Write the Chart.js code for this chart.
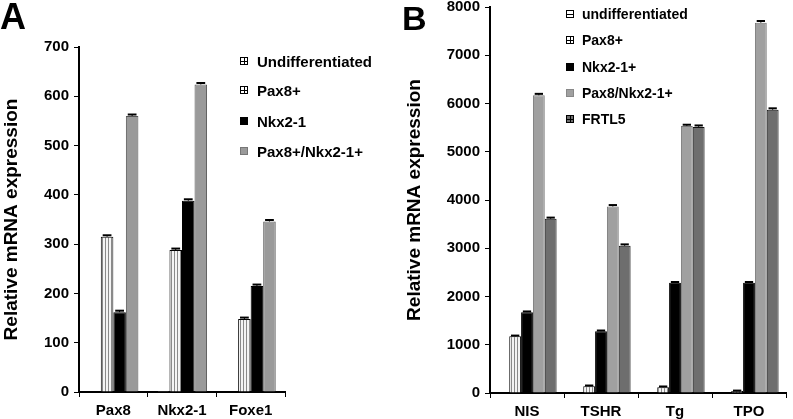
<!DOCTYPE html>
<html>
<head>
<meta charset="utf-8">
<script src="https://cdn.jsdelivr.net/npm/chart.js@4.4.1/dist/chart.umd.min.js"></script>
<style>
  html,body{margin:0;padding:0;background:#fff;}
  body{width:793px;height:419px;position:relative;overflow:hidden;font-family:"Liberation Sans",Arial,sans-serif;font-weight:bold;color:#000;}
  #wrapA{position:absolute;left:0;top:0;width:400px;height:419px;}
  #wrapB{position:absolute;left:400px;top:0;width:393px;height:419px;}
  .panel{position:absolute;font-size:36px;font-weight:bold;line-height:1;}
  .legend{position:absolute;}
  .legend .it{position:absolute;white-space:nowrap;display:flex;align-items:center;}
  .legend .sw{display:inline-block;box-sizing:border-box;border:1px solid #000;}
</style>
</head>
<body>
<div id="wrapA"><canvas id="chartA" width="400" height="419"></canvas></div>
<div id="wrapB"><canvas id="chartB" width="393" height="419"></canvas></div>
<div class="panel" style="left:0px;top:-1px;">A</div>
<div class="panel" style="left:402px;top:1px;font-size:34px;">B</div>
<div class="legend" id="legA"></div>
<div class="legend" id="legB"></div>
<script>
// ---------- Data ----------
const catsA = ["Pax8", "Nkx2-1", "Foxe1"];
const seriesNamesA = ["Undifferentiated", "Pax8+", "Nkx2-1", "Pax8+/Nkx2-1+"];
const undiffA = [1, 2, 1];
const pax8A = [315, 288, 148];
const nkx21A = [162, 388, 215];
const doubleA = [560, 624, 346];
const errA_undiff = [0, 0, 0];
const errA_pax8 = [3, 3, 3];
const errA_nkx = [3, 3, 3];
const errA_double = [3, 3, 3];
const yTicksA = [0, 100, 200, 300, 400, 500, 600, 700];

const catsB = ["NIS", "TSHR", "Tg", "TPO"];
const seriesNamesB = ["undifferentiated", "Pax8+", "Nkx2-1+", "Pax8/Nkx2-1+", "FRTL5"];
const undiffB = [10, 8, 8, 8];
const pax8B = [1175, 140, 120, 40];
const nkx21B = [1675, 1280, 2285, 2285];
const doubleB = [6170, 3865, 5535, 7675];
const frtl5B = [3610, 3050, 5515, 5870];
const errB_undiff = [0, 0, 0, 0];
const errB_pax8 = [15, 15, 15, 10];
const errB_nkx = [15, 15, 15, 15];
const errB_double = [30, 30, 25, 35];
const errB_frtl5 = [25, 30, 30, 30];
const yTicksB = [0, 1000, 2000, 3000, 4000, 5000, 6000, 7000, 8000];

// ---------- Patterns ----------
function makePattern(bg, line, dir, period) {
  const c = document.createElement('canvas');
  c.width = period; c.height = period;
  const g = c.getContext('2d');
  g.fillStyle = bg; g.fillRect(0, 0, period, period);
  g.fillStyle = line;
  if (dir === 'v') g.fillRect(0, 0, 1, period);
  else g.fillRect(0, 0, period, 1);
  return g.createPattern(c, 'repeat');
}
const ctxA = document.getElementById('chartA').getContext('2d');
const patUndiff = makePattern('#ffffff', '#bdbdbd', 'h', 3);
const patPax8 = makePattern('#f4f4f4', '#8a8a8a', 'v', 3);

const FONT = '"Liberation Sans", Arial, sans-serif';

// ---------- Error bar plugin ----------
const errorBars = {
  id: 'errorBars',
  afterDatasetsDraw(chart) {
    const ctx = chart.ctx;
    const ys = chart.scales.y;
    chart.data.datasets.forEach((ds, i) => {
      const meta = chart.getDatasetMeta(i);
      if (!ds.errors) return;
      meta.data.forEach((el, j) => {
        const e = ds.errors[j];
        if (!e) return;
        const yTop = ys.getPixelForValue(ds.data[j] + e);
        const hw = el.width * 0.35;
        ctx.save();
        ctx.strokeStyle = '#000';
        ctx.lineWidth = 1;
        ctx.beginPath();
        ctx.moveTo(el.x, el.y); ctx.lineTo(el.x, yTop);
        ctx.stroke();
        ctx.lineWidth = 2;
        ctx.beginPath();
        ctx.moveTo(el.x - hw, yTop); ctx.lineTo(el.x + hw, yTop);
        ctx.stroke();
        ctx.restore();
      });
    });
  }
};

function makeOptions(cfg) {
  return {
    responsive: false,
    animation: false,
    layout: { padding: cfg.padding },
    plugins: { legend: { display: false }, tooltip: { enabled: false } },
    datasets: { bar: { categoryPercentage: cfg.catPct, barPercentage: 1.0 } },
    scales: {
      x: {
        offset: true,
        grid: { display: true, drawOnChartArea: false, drawTicks: true, tickLength: 5, color: '#000', lineWidth: 1, offset: true },
        border: { display: true, color: '#000', width: 2 },
        ticks: { color: '#000', padding: 5, font: { family: FONT, size: 15, weight: 'bold' }, maxRotation: 0 },
        afterFit(s) { s.height = cfg.xHeight; }
      },
      y: {
        min: cfg.yTicks[0],
        max: cfg.yTicks[cfg.yTicks.length - 1],
        afterBuildTicks(s) { s.ticks = cfg.yTicks.map(v => ({ value: v })); },
        grid: { display: true, drawOnChartArea: false, drawTicks: true, tickLength: 5, color: '#000', lineWidth: 1 },
        border: { display: true, color: '#000', width: 2 },
        ticks: { color: '#000', padding: cfg.tickPad, font: { family: FONT, size: 15, weight: 'bold' }, callback: (v) => String(v) },
        title: { display: true, text: 'Relative mRNA expression', color: '#000', font: { family: FONT, size: 19, weight: 'bold' }, padding: { top: cfg.titlePad, bottom: 0 } },
        afterFit(s) { s.width = cfg.yWidth; s.paddingTop = 0; s.paddingBottom = 0; }
      }
    }
  };
}

new Chart(ctxA, {
  type: 'bar',
  data: {
    labels: catsA,
    datasets: [
      { label: seriesNamesA[0], data: undiffA, errors: errA_undiff, backgroundColor: patUndiff, borderColor: '#000', borderWidth: 1 },
      { label: seriesNamesA[1], data: pax8A, errors: errA_pax8, backgroundColor: patPax8, borderColor: '#000', borderWidth: 1 },
      { label: seriesNamesA[2], data: nkx21A, errors: errA_nkx, backgroundColor: '#000000', borderColor: '#000', borderWidth: 1 },
      { label: seriesNamesA[3], data: doubleA, errors: errA_double, backgroundColor: '#9a9a9a', borderColor: '#555', borderWidth: 1 }
    ]
  },
  options: makeOptions({ padding: { left: 0, top: 47, right: 115, bottom: 0 }, catPct: 0.73, xHeight: 27, yWidth: 79, yTicks: yTicksA, tickPad: 5, titlePad: 0 }),
  plugins: [errorBars]
});

const ctxB = document.getElementById('chartB').getContext('2d');
new Chart(ctxB, {
  type: 'bar',
  data: {
    labels: catsB,
    datasets: [
      { label: seriesNamesB[0], data: undiffB, errors: errB_undiff, backgroundColor: patUndiff, borderColor: '#000', borderWidth: 1 },
      { label: seriesNamesB[1], data: pax8B, errors: errB_pax8, backgroundColor: patPax8, borderColor: '#000', borderWidth: 1 },
      { label: seriesNamesB[2], data: nkx21B, errors: errB_nkx, backgroundColor: '#000000', borderColor: '#000', borderWidth: 1 },
      { label: seriesNamesB[3], data: doubleB, errors: errB_double, backgroundColor: '#a0a0a0', borderColor: '#777', borderWidth: 1 },
      { label: seriesNamesB[4], data: frtl5B, errors: errB_frtl5, backgroundColor: '#6e6e6e', borderColor: '#111', borderWidth: 1 }
    ]
  },
  options: makeOptions({ padding: { left: 0, top: 7, right: 7, bottom: 0 }, catPct: 0.8, xHeight: 26, yWidth: 90, yTicks: yTicksB, tickPad: 5, titlePad: 3 }),
  plugins: [errorBars]
});

// ---------- HTML legends ----------
const swatchA = [
  'background:#fff;background-image:linear-gradient(#000,#000),linear-gradient(#000,#000);background-size:100% 1px,1px 100%;background-position:center,center;background-repeat:no-repeat;',
  'background:#fff;background-image:linear-gradient(#000,#000),linear-gradient(#000,#000);background-size:100% 1px,1px 100%;background-position:center,center;background-repeat:no-repeat;',
  'background:#000;',
  'background:#9a9a9a;border-color:#777;'
];
const swatchB = [
  'background:#fff;background-image:linear-gradient(#000,#000);background-size:100% 1px;background-position:center;background-repeat:no-repeat;',
  'background:#fff;background-image:linear-gradient(#000,#000),linear-gradient(#000,#000);background-size:100% 1px,1px 100%;background-position:center,center;background-repeat:no-repeat;',
  'background:#000;',
  'background:#a0a0a0;border-color:#888;',
  'background:#6e6e6e;background-image:linear-gradient(#000,#000),linear-gradient(#000,#000);background-size:100% 1px,1px 100%;background-position:center,center;background-repeat:no-repeat;'
];
function buildLegend(el, names, swatches, x, ys, textX, size, fontSize) {
  names.forEach((n, i) => {
    const it = document.createElement('div');
    it.className = 'it';
    it.style.left = x + 'px';
    it.style.top = (ys[i] - 10) + 'px';
    it.style.height = '20px';
    it.style.fontSize = fontSize + 'px';
    const sw = document.createElement('span');
    sw.className = 'sw';
    sw.style.cssText += swatches[i] + 'width:' + size + 'px;height:' + size + 'px;margin-right:' + (textX - x - size) + 'px;';
    it.appendChild(sw);
    const t = document.createElement('span');
    t.textContent = n;
    it.appendChild(t);
    el.appendChild(it);
  });
}
buildLegend(document.getElementById('legA'), seriesNamesA, swatchA, 240, [61, 90, 121, 151], 257, 8, 15);
buildLegend(document.getElementById('legB'), seriesNamesB, swatchB, 566, [14, 40, 67, 93, 119], 582, 8, 14);
</script>
</body>
</html>
